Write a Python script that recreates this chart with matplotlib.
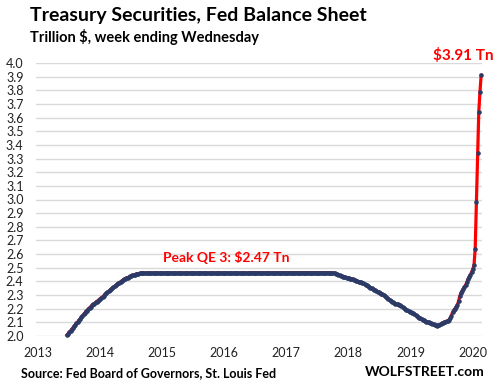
import matplotlib
matplotlib.use("Agg")
import matplotlib.pyplot as plt
import pandas as pd
import numpy as np

# ---------------- data (trillion $, weekly, Wednesdays) ----------------
start_date = "2013-08-21"

ramp = [2.007, 2.017, 2.028, 2.039, 2.048, 2.060, 2.071, 2.080, 2.092, 2.103,
        2.115, 2.124, 2.136, 2.148, 2.158, 2.168, 2.180, 2.186, 2.196, 2.208,
        2.216, 2.224, 2.231, 2.238, 2.246, 2.252, 2.259, 2.265, 2.272, 2.280,
        2.288, 2.296, 2.306, 2.313, 2.320, 2.327, 2.334, 2.342, 2.350, 2.357,
        2.364, 2.371, 2.378, 2.385, 2.391, 2.398, 2.404, 2.409, 2.414, 2.419,
        2.424, 2.428, 2.432, 2.436, 2.440, 2.444, 2.447, 2.450, 2.453, 2.455,
        2.457, 2.459, 2.460]

flat_2015_2016 = [
    2.461, 2.461, 2.461, 2.461, 2.461, 2.461, 2.461, 2.461, 2.461, 2.461,
    2.461, 2.461, 2.461, 2.461, 2.461, 2.461, 2.461, 2.461, 2.461, 2.461,
    2.461, 2.461, 2.461, 2.461, 2.461, 2.461, 2.461, 2.461, 2.461, 2.461,
    2.461, 2.461, 2.461, 2.461, 2.461, 2.461, 2.461, 2.461, 2.461, 2.461,
    2.461, 2.461, 2.461, 2.461, 2.461, 2.461, 2.461, 2.461, 2.461, 2.461,
    2.461, 2.461, 2.461, 2.461, 2.461, 2.461, 2.461, 2.461, 2.461, 2.461,
    2.461, 2.461, 2.461, 2.461, 2.461, 2.461, 2.461, 2.461, 2.461, 2.461,
    2.461, 2.461, 2.461, 2.461, 2.461, 2.461, 2.461, 2.461, 2.461, 2.461,
    2.461, 2.461, 2.461, 2.461, 2.461, 2.461, 2.461, 2.461, 2.461, 2.461]

flat_2016_2017 = [
    2.463, 2.463, 2.463, 2.463, 2.463, 2.463, 2.463, 2.463, 2.463, 2.463,
    2.463, 2.463, 2.463, 2.463, 2.463, 2.463, 2.463, 2.463, 2.463, 2.463,
    2.463, 2.463, 2.463, 2.463, 2.463, 2.463, 2.463, 2.463, 2.463, 2.463,
    2.464, 2.464, 2.464, 2.464, 2.464, 2.464, 2.464, 2.464, 2.464, 2.464,
    2.464, 2.464, 2.464, 2.464, 2.464, 2.464, 2.464, 2.464, 2.464, 2.464,
    2.464, 2.464, 2.464, 2.464, 2.464, 2.464, 2.464, 2.464, 2.464, 2.464,
    2.464, 2.464, 2.464, 2.464, 2.464, 2.464, 2.464, 2.464, 2.464]

runoff = [
    2.463, 2.462, 2.460, 2.458, 2.455, 2.452, 2.450, 2.447, 2.442, 2.438,
    2.435, 2.433, 2.430, 2.428, 2.426, 2.423, 2.421, 2.419, 2.418, 2.413,
    2.409, 2.405, 2.402, 2.398, 2.395, 2.392, 2.389, 2.386, 2.380, 2.375,
    2.370, 2.365, 2.360, 2.355, 2.350, 2.345, 2.340, 2.335, 2.330, 2.325,
    2.320, 2.315, 2.310, 2.305, 2.300, 2.293, 2.287, 2.280, 2.273, 2.266,
    2.259, 2.252, 2.246, 2.240, 2.237, 2.234, 2.231, 2.228, 2.225, 2.219,
    2.212, 2.205, 2.198, 2.191, 2.187, 2.183, 2.178, 2.174, 2.170, 2.166,
    2.160, 2.153, 2.147, 2.141, 2.135, 2.130, 2.125, 2.120, 2.115, 2.110,
    2.105, 2.102, 2.099, 2.096, 2.093, 2.089, 2.085, 2.081, 2.077, 2.073]

rebound = [2.078, 2.083, 2.088, 2.093, 2.097, 2.101, 2.105, 2.109, 2.113, 2.117,
           2.130, 2.150, 2.175, 2.188, 2.200, 2.214, 2.227, 2.255, 2.290, 2.315,
           2.330, 2.345, 2.360, 2.374, 2.395, 2.415, 2.434, 2.450, 2.468, 2.490,
           2.520]

spike = [2.640, 2.980, 3.340, 3.640, 3.790, 3.910]

values = ramp + flat_2015_2016 + flat_2016_2017 + runoff + rebound + spike
dates = pd.date_range(start_date, periods=len(values), freq="W-WED")

y_ticks = [2.0, 2.1, 2.2, 2.3, 2.4, 2.5, 2.6, 2.7, 2.8, 2.9, 3.0,
           3.1, 3.2, 3.3, 3.4, 3.5, 3.6, 3.7, 3.8, 3.9, 4.0]
year_labels = ["2013", "2014", "2015", "2016", "2017", "2018", "2019", "2020"]

title = "Treasury Securities, Fed Balance Sheet"
subtitle = "Trillion $, week ending Wednesday"
peak_label = "Peak QE 3: $2.47 Tn"
last_label = "$3.91 Tn"
source = "Source: Fed Board of Governors, St. Louis Fed"
brand = "WOLFSTREET.com"

# ---------------- plot ----------------
FONT = "Lato"
plt.rcParams["font.family"] = [FONT, "DejaVu Sans"]

fig = plt.figure(figsize=(4.98, 3.88), dpi=100)
ax = fig.add_axes([36 / 498, 1 - 336 / 388, (482 - 36) / 498, (336 - 63) / 388])

ax.plot(dates, values, color="#ff0000", lw=2.3, zorder=3, clip_on=False)
ax.plot(dates, values, ls="none", marker="o", ms=2.8, mfc="#2b3a66",
        mec="#2b3a66", mew=0.4, zorder=4, clip_on=False)

ax.set_ylim(2.0, 4.0)
ax.set_xlim(pd.Timestamp("2013-02-20"), pd.Timestamp("2020-04-27"))
ax.set_yticks(y_ticks)
ax.set_yticklabels([f"{v:.1f}" for v in y_ticks])
ax.yaxis.grid(True, color="#d9d9d9", lw=1.0)
ax.set_axisbelow(True)
for s in ax.spines.values():
    s.set_visible(False)
ax.tick_params(axis="both", length=0, labelsize=9, colors="#222222")
ax.tick_params(axis="y", pad=9)
ax.tick_params(axis="x", pad=8)

tick_pos = [pd.Timestamp(f"{y}-03-03") for y in year_labels]
ax.set_xticks(tick_pos)
ax.set_xticklabels(year_labels)

fig.text(30 / 498, 1 - 16 / 388, title, fontsize=14, fontweight="bold",
         ha="left", va="center", color="#000000")
fig.text(30 / 498, 1 - 37 / 388, subtitle, fontsize=10.5, fontweight="bold",
         ha="left", va="center", color="#000000")
fig.text(163 / 498, 1 - 258 / 388, peak_label, fontsize=10, fontweight="bold",
         ha="left", va="center", color="#ff0000")
fig.text(494 / 498, 1 - 55 / 388, last_label, fontsize=11, fontweight="bold",
         ha="right", va="center", color="#ff0000")
fig.text(21 / 498, 1 - 373 / 388, source, fontsize=9, fontweight="bold",
         ha="left", va="center", color="#000000")
fig.text(485 / 498, 1 - 372 / 388, brand, fontsize=10, fontweight="bold",
         ha="right", va="center", color="#000000")

fig.savefig("out.png", dpi=100)
